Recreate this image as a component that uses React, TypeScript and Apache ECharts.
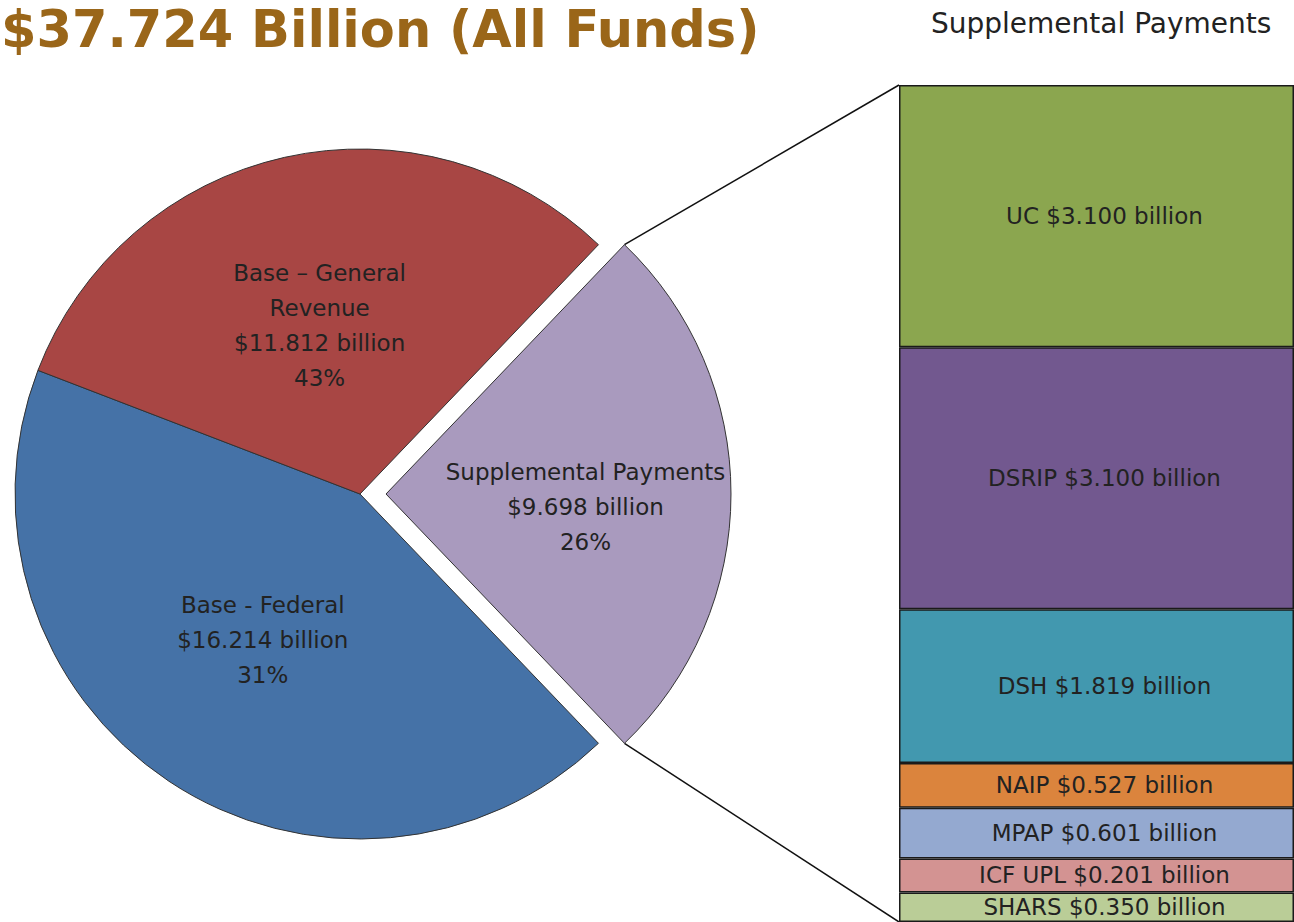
import React, { useEffect, useRef } from "react";
import * as echarts from "echarts";

const titleText = "$37.724 Billion (All Funds)";
const sideTitle = "Supplemental Payments";

const pieNames = ["Supplemental Payments", "Base - Federal", "Base – General\nRevenue"];
const pieValues = [9.698, 16.214, 11.812];
const piePercents = ["26%", "31%", "43%"];
const pieColors = ["#A99ABE", "#4572A7", "#A84644"];

const barNames = ["UC", "DSRIP", "DSH", "NAIP", "MPAP", "ICF UPL", "SHARS"];
const barLabelAmounts = ["3.100", "3.100", "1.819", "0.527", "0.601", "0.201", "0.350"];
const barValues = [3.1, 3.1, 1.819, 0.527, 0.601, 0.401, 0.35];
const barColors = ["#8BA64F", "#72588F", "#4298AF", "#DB843D", "#94A9D0", "#D39392", "#BACD97"];

const FONT = "DejaVu Sans";

export default function App() {
  const ref = useRef<HTMLDivElement>(null);
  useEffect(() => {
    document.body.style.margin = "0";
    const chart = echarts.init(ref.current!, null, { renderer: "svg" });
    const total = pieValues.reduce((a, b) => a + b, 0);
    const half = (pieValues[0] / total) * 180;
    const cx = 360, cy = 494, r = 345, off = 26;
    const barLeft = 899, barTop = 85, barBottom = 922;
    const rad = (half * Math.PI) / 180;
    const topCorner = [cx + off + r * Math.cos(rad), cy - r * Math.sin(rad)];
    const botCorner = [cx + off + r * Math.cos(rad), cy + r * Math.sin(rad)];
    const barTotal = barValues.reduce((a, b) => a + b, 0);

    chart.setOption({
      animation: false,
      title: [
        {
          text: titleText,
          left: 1,
          top: 0,
          padding: 0,
          textStyle: { fontFamily: FONT, fontWeight: "bold", fontSize: 51, lineHeight: 58, color: "#9A6619" },
        },
        {
          text: sideTitle,
          left: 926,
          top: 4,
          textStyle: { fontFamily: FONT, fontWeight: "normal", fontSize: 28, color: "#222" },
        },
      ],
      grid: { left: barLeft, top: barTop, width: 426, height: barBottom - barTop, containLabel: false },
      xAxis: { type: "category", data: ["Supplemental"], show: false },
      yAxis: { type: "value", min: 0, max: barTotal, inverse: true, show: false },
      series: [
        {
          type: "pie",
          center: [cx, cy],
          radius: [0, r],
          startAngle: half,
          clockwise: true,
          selectedMode: "single",
          selectedOffset: off,
          avoidLabelOverlap: false,
          emphasis: { disabled: true },
          itemStyle: { borderColor: "#333", borderWidth: 1 },
          label: {
            show: true,
            position: "inside",
            fontFamily: FONT,
            fontSize: 23,
            lineHeight: 35,
            color: "#222",
            formatter: (p: any) =>
              `${p.name}\n$${p.value.toFixed(3)} billion\n${piePercents[p.dataIndex]}`,
          },
          labelLayout: (p: any) =>
            p.dataIndex === 0 ? { dx: 24, dy: 13 } : p.dataIndex === 2 ? { dx: -2, dy: 3 } : { dy: 0 },
          data: pieValues.map((v, i) => ({
            name: pieNames[i],
            value: v,
            selected: i === 0,
            itemStyle: { color: pieColors[i] },
          })),
        },
        ...barValues.map((v, i) => ({
          type: "bar",
          name: barNames[i],
          stack: "sp",
          barWidth: "100%",
          data: [v],
          itemStyle: { color: barColors[i], borderColor: "#1a1a1a", borderWidth: 1.5 },
          emphasis: { disabled: true },
          label: {
            show: true,
            position: "inside",
            offset: [8, 0],
            fontFamily: FONT,
            fontSize: 23,
            color: "#222",
            formatter: () => `${barNames[i]} $${barLabelAmounts[i]} billion`,
          },
        })),
      ],
      graphic: [
        {
          type: "line",
          shape: { x1: topCorner[0], y1: topCorner[1], x2: barLeft, y2: barTop },
          style: { stroke: "#111", lineWidth: 1.5 },
        },
        {
          type: "line",
          shape: { x1: botCorner[0], y1: botCorner[1], x2: barLeft, y2: barBottom },
          style: { stroke: "#111", lineWidth: 1.5 },
        },
      ],
    });
    return () => chart.dispose();
  }, []);
  return (
    <div
      ref={ref}
      style={{ position: "absolute", left: 0, top: 0, width: 1294, height: 922, background: "#fff" }}
    />
  );
}
